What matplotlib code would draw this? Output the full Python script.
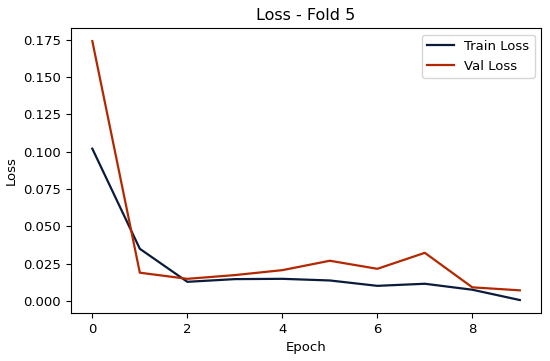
import matplotlib
matplotlib.use("Agg")
import matplotlib.pyplot as plt

epochs = list(range(10))
train_loss = [0.102, 0.035, 0.0129, 0.0147, 0.0149, 0.0138, 0.0102, 0.0116, 0.0076, 0.0007]
val_loss = [0.174, 0.019, 0.0149, 0.0174, 0.0207, 0.027, 0.0216, 0.0323, 0.0092, 0.0072]

plt.rcParams["font.size"] = 9.5

fig = plt.figure(figsize=(5.5, 3.61), dpi=100)
ax = fig.add_axes([0.129, 0.133, 0.855, 0.789])
ax.plot(epochs, train_loss, color="#0b1b3b", linewidth=1.6, label="Train Loss")
ax.plot(epochs, val_loss, color="#b32800", linewidth=1.6, label="Val Loss")
ax.set_title("Loss - Fold 5", fontsize=11.5)
ax.set_xlabel("Epoch")
ax.set_ylabel("Loss")
ax.set_xticks([0, 2, 4, 6, 8])
ax.legend(loc="upper right")
fig.savefig("out.png", dpi=100)
